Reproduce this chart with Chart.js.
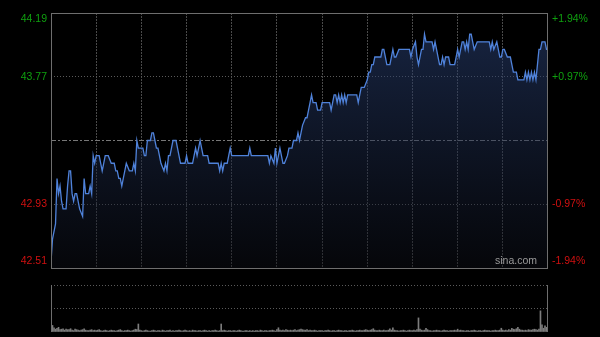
<!DOCTYPE html>
<html>
<head>
<meta charset="utf-8">
<script src="https://cdn.jsdelivr.net/npm/chart.js@4/dist/chart.umd.min.js"></script>
<style>
  body { margin: 0; background: #000; width: 600px; height: 337px; overflow: hidden; position: relative; }
  canvas { position: absolute; left: 0; }
  #priceCanvas { top: 0; }
  #volCanvas { top: 278px; }
</style>
</head>
<body>
<canvas id="priceCanvas" width="600" height="275"></canvas>
<canvas id="volCanvas" width="600" height="59"></canvas>
<script>
// minutes since open (HK session, 330 minutes) and last price
const minutes = [0,1,3,4,5,6,7,8,10,11,12,13,14,15,16,17,18,19,21,22,23,25,26,27,28,29,30,32,33,34,35,36,37,38,40,41,42,43,44,45,46,47,48,49,50,52,53,54,55,56,57,58,60,61,62,63,64,65,66,67,68,69,70,71,72,73,75,76,77,78,79,80,81,82,83,84,86,87,88,89,90,91,92,94,96,97,98,99,100,101,103,104,105,106,108,110,111,112,113,114,115,116,117,118,119,120,122,129,131,132,133,144,145,146,148,149,150,151,152,153,154,155,157,158,159,160,161,162,163,164,165,166,167,169,170,171,172,173,174,175,176,177,178,179,180,181,184,185,186,187,188,189,190,191,192,193,194,195,196,197,199,202,203,204,205,206,208,210,211,212,213,214,215,219,220,221,223,225,226,227,228,229,231,232,238,239,240,242,243,244,245,246,247,248,249,253,254,255,256,257,258,259,260,261,262,264,265,268,269,270,271,272,273,274,275,276,277,278,279,280,281,283,291,292,293,294,296,297,298,299,300,301,303,304,305,306,307,308,309,310,314,315,316,317,318,319,320,321,322,324,325,326,327,328,329,330];
const prices = [42.55,42.70,42.80,43.10,43.00,43.05,42.95,42.90,42.90,43.05,43.15,43.15,43.00,42.95,43.00,43.00,42.95,42.90,42.85,43.10,43.00,43.00,43.05,43.00,43.25,43.20,43.25,43.25,43.20,43.15,43.20,43.25,43.25,43.25,43.20,43.20,43.20,43.15,43.15,43.10,43.10,43.05,43.10,43.15,43.20,43.15,43.15,43.15,43.20,43.15,43.35,43.30,43.30,43.30,43.25,43.25,43.35,43.35,43.35,43.40,43.40,43.35,43.30,43.30,43.25,43.20,43.15,43.20,43.15,43.25,43.25,43.30,43.35,43.35,43.35,43.30,43.20,43.20,43.20,43.20,43.25,43.20,43.20,43.20,43.30,43.25,43.30,43.35,43.30,43.25,43.25,43.25,43.20,43.20,43.20,43.20,43.20,43.15,43.20,43.15,43.20,43.20,43.20,43.25,43.30,43.25,43.25,43.25,43.25,43.30,43.25,43.25,43.20,43.25,43.20,43.30,43.20,43.25,43.30,43.25,43.20,43.20,43.25,43.30,43.30,43.30,43.35,43.35,43.35,43.40,43.35,43.40,43.45,43.50,43.50,43.55,43.60,43.65,43.60,43.60,43.60,43.55,43.55,43.55,43.60,43.60,43.60,43.60,43.55,43.60,43.65,43.65,43.60,43.65,43.60,43.65,43.60,43.65,43.60,43.65,43.65,43.65,43.65,43.60,43.65,43.70,43.70,43.75,43.80,43.80,43.85,43.85,43.90,43.90,43.95,43.95,43.85,43.85,43.90,43.95,43.90,43.90,43.95,43.95,43.95,43.90,43.95,44.00,43.90,43.85,43.90,43.95,43.95,44.05,44.00,44.00,43.95,44.00,43.95,43.90,43.85,43.85,43.90,43.85,43.90,43.90,43.85,43.85,43.90,43.95,43.90,43.95,44.00,44.00,43.95,44.00,43.95,44.05,44.05,44.00,43.95,44.00,44.00,43.95,44.00,43.95,44.00,43.95,43.90,43.90,43.95,43.95,43.90,43.90,43.90,43.85,43.80,43.80,43.80,43.75,43.75,43.80,43.75,43.80,43.75,43.80,43.75,43.80,43.75,43.95,43.95,44.00,44.00,44.00,43.95,43.95];

const preClose = 43.35;
const priceLevels = [42.51, 42.93, 43.35, 43.77, 44.19];
const leftLabels = ["44.19", "43.77", "42.93", "42.51"];
const labelValues = [44.19, 43.77, 42.93, 42.51];
const rightLabels = ["+1.94%", "+0.97%", "-0.97%", "-1.94%"];

// volume per minute, minute 0..330
const volumes = [
  24,14,9,6,8,10,5,6,7,4,6,5,5,7,4,3,6,5,4,3,4,5,7,4,3,3,4,5,3,4,
  3,4,5,3,2,3,4,3,2,3,4,3,3,2,3,4,5,3,2,3,3,4,3,2,3,4,6,5,17,4,
  3,2,3,4,3,2,2,3,4,3,2,3,3,2,4,3,2,3,3,4,2,3,2,3,3,4,3,2,3,4,
  3,2,3,2,4,3,3,2,3,3,2,3,4,3,2,3,2,3,3,4,3,2,3,17,3,4,3,2,3,3,
  2,3,3,2,3,4,3,2,2,3,3,2,3,2,3,2,3,3,2,4,3,2,3,3,2,3,3,4,3,2,
  5,9,4,3,4,3,5,4,3,4,3,4,5,3,4,5,6,5,4,4,5,3,4,3,3,4,3,2,3,3,
  3,2,3,3,4,3,2,3,3,2,3,4,3,3,2,3,3,2,3,3,4,3,2,3,3,4,3,3,4,5,
  4,3,4,5,7,4,3,3,4,3,3,4,3,3,4,7,4,9,4,3,3,2,3,3,4,3,2,3,4,3,
  3,4,3,5,30,6,4,3,4,8,5,3,3,2,3,3,4,3,3,2,3,4,3,3,2,3,3,3,4,3,
  6,3,4,3,3,2,3,3,2,3,3,4,3,2,3,3,2,3,4,3,3,3,2,3,3,4,3,3,4,8,
  4,3,4,3,5,4,8,6,5,7,10,6,4,4,3,4,3,5,4,4,5,6,5,4,6,45,15,8,13,10,
  6
];

const FONT = "10.5px 'Liberation Sans', Arial, sans-serif";
const GREEN = "#0fa00f";
const RED = "#d01010";

const framePlugin = {
  id: "frame",
  afterDraw(chart) {
    const { ctx, chartArea: a, scales } = chart;
    ctx.save();
    ctx.strokeStyle = "#6e6e6e";
    ctx.lineWidth = 1;
    ctx.strokeRect(a.left + 0.5, a.top + 0.5, a.right - a.left - 1, a.bottom - a.top);
    ctx.font = FONT;
    ctx.textBaseline = "middle";
    labelValues.forEach((v, i) => {
      let y = scales.y.getPixelForValue(v);
      y = Math.max(a.top + 6, Math.min(a.bottom - 7, y));
      ctx.fillStyle = v > preClose ? GREEN : RED;
      ctx.textAlign = "right";
      ctx.fillText(leftLabels[i], a.left - 4, y);
      ctx.textAlign = "left";
      ctx.fillText(rightLabels[i], a.right + 4, y);
    });
    ctx.fillStyle = "#9a9a9a";
    ctx.textAlign = "right";
    ctx.fillText("sina.com", a.right - 11, a.bottom - 7);
    ctx.restore();
  }
};

new Chart(document.getElementById("priceCanvas"), {
  type: "line",
  data: {
    datasets: [{
      data: minutes.map((m, i) => ({ x: m, y: prices[i] })),
      borderColor: "#4f82da",
      borderWidth: 1.3,
      pointRadius: 0,
      tension: 0,
      fill: "start",
      backgroundColor: (c) => {
        const a = c.chart.chartArea;
        if (!a) return "rgba(40,62,112,0.5)";
        const g = c.chart.ctx.createLinearGradient(0, a.top, 0, a.bottom);
        g.addColorStop(0, "rgba(46,72,130,0.52)");
        g.addColorStop(1, "rgba(12,14,22,0.45)");
        return g;
      }
    }]
  },
  options: {
    responsive: false,
    animation: false,
    layout: { padding: { left: 51, right: 52, top: 13, bottom: 7 } },
    plugins: { legend: { display: false }, tooltip: { enabled: false } },
    scales: {
      x: {
        type: "linear", min: 0, max: 330,
        ticks: { display: false, stepSize: 30 },
        grid: { drawTicks: false, color: (c) => (c.tick && (c.tick.value === 0 || c.tick.value === 330)) ? "rgba(0,0,0,0)" : "#4a4a4a" },
        border: { display: false, dash: [2, 1] },
        afterFit: (s) => { s.height = 0; }
      },
      y: {
        min: 42.51, max: 44.19,
        afterBuildTicks: (s) => { s.ticks = priceLevels.map(v => ({ value: v })); },
        ticks: { display: false },
        grid: {
          drawTicks: false,
          color: (c) => {
            const v = c.tick && c.tick.value;
            if (v === 42.51 || v === 44.19) return "rgba(0,0,0,0)";
            return v === preClose ? "#777" : "#5a5a5a";
          }
        },
        border: { display: false, dash: (c) => (c.tick && c.tick.value === preClose) ? [5, 2, 2, 2] : [1, 2] },
        afterFit: (s) => { s.width = 0; }
      }
    }
  },
  plugins: [framePlugin]
});

const volFrame = {
  id: "volFrame",
  afterDraw(chart) {
    const { ctx, chartArea: a } = chart;
    ctx.save();
    ctx.strokeStyle = "#6e6e6e";
    ctx.lineWidth = 1;
    ctx.beginPath();
    ctx.moveTo(a.left + 0.5, a.top); ctx.lineTo(a.left + 0.5, a.bottom);
    ctx.moveTo(a.right - 0.5, a.top); ctx.lineTo(a.right - 0.5, a.bottom);
    ctx.stroke();
    ctx.restore();
  }
};

new Chart(document.getElementById("volCanvas"), {
  type: "bar",
  data: {
    datasets: [{
      data: volumes.map((v, i) => ({ x: i, y: v })),
      backgroundColor: "#7c7c7c",
      barThickness: 1
    }]
  },
  options: {
    responsive: false,
    animation: false,
    layout: { padding: { left: 51, right: 52, top: 7, bottom: 5 } },
    plugins: { legend: { display: false }, tooltip: { enabled: false } },
    scales: {
      x: {
        type: "linear", min: 0, max: 330, offset: false,
        ticks: { display: false },
        grid: { display: false },
        border: { display: false },
        afterFit: (s) => { s.height = 0; }
      },
      y: {
        min: 0, max: 100,
        ticks: { display: false, stepSize: 50 },
        grid: { drawTicks: false, color: (c) => (c.tick && c.tick.value === 0) ? "rgba(0,0,0,0)" : "#5a5a5a" },
        border: { display: false, dash: [1, 2] },
        afterFit: (s) => { s.width = 0; }
      }
    }
  },
  plugins: [volFrame]
});
</script>
</body>
</html>
